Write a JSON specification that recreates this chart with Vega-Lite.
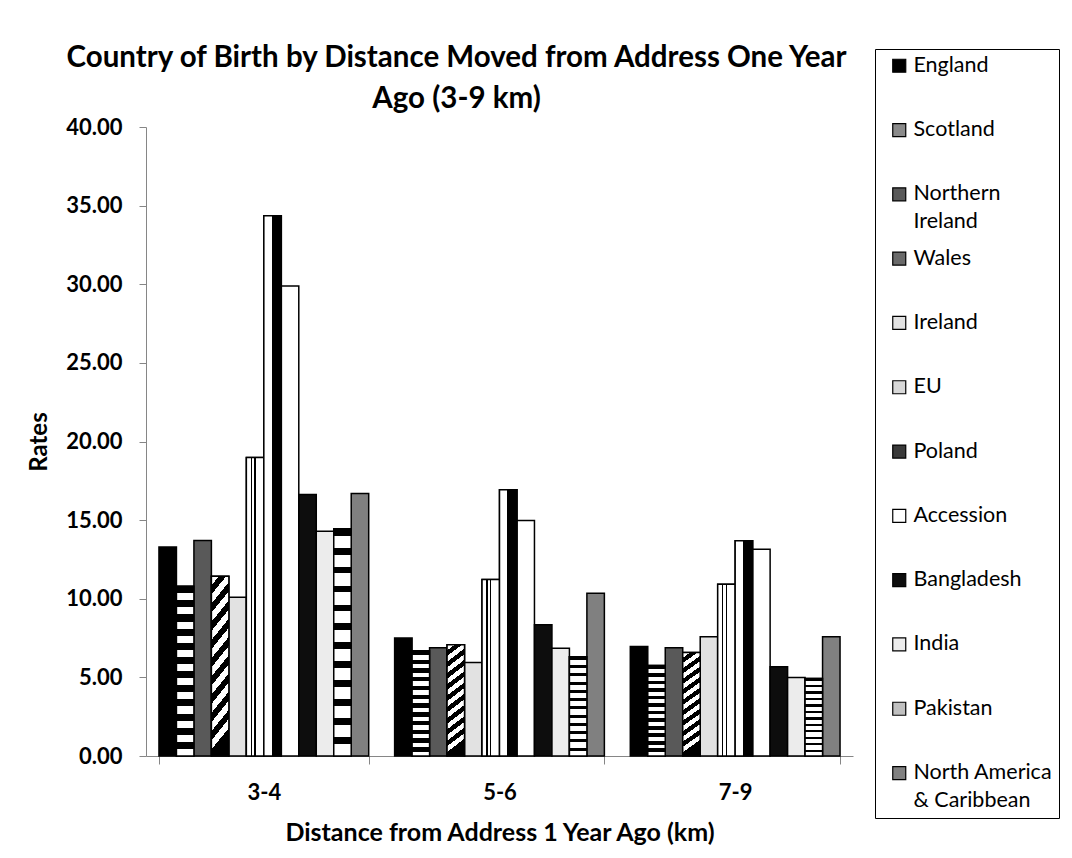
{
  "$schema": "https://vega.github.io/schema/vega-lite/v6.json",
  "autosize": {"type": "none"},
  "width": 707,
  "height": 629,
  "padding": {"left": 146, "top": 127, "right": 219, "bottom": 102},
  "background": "white",
  "title": {
    "text": ["Country of Birth by Distance Moved from Address One Year", "Ago (3-9 km)"],
    "font": "Lato",
    "fontSize": 29.5,
    "fontWeight": "bold",
    "color": "black",
    "anchor": "middle",
    "frame": "group",
    "dx": -43,
    "dy": 86,
    "lineHeight": 41,
    "offset": 20
  },
  "data": {
    "values": [
      {"d": "3-4", "c": "England", "v": 13.29},
      {"d": "3-4", "c": "Scotland", "v": 10.80},
      {"d": "3-4", "c": "Northern Ireland", "v": 13.70},
      {"d": "3-4", "c": "Wales", "v": 11.43},
      {"d": "3-4", "c": "Ireland", "v": 10.10},
      {"d": "3-4", "c": "EU", "v": 18.98},
      {"d": "3-4", "c": "Poland", "v": 34.35},
      {"d": "3-4", "c": "Accession", "v": 29.89},
      {"d": "3-4", "c": "Bangladesh", "v": 16.63},
      {"d": "3-4", "c": "India", "v": 14.30},
      {"d": "3-4", "c": "Pakistan", "v": 14.45},
      {"d": "3-4", "c": "North America & Caribbean", "v": 16.70},
      {"d": "5-6", "c": "England", "v": 7.51},
      {"d": "5-6", "c": "Scotland", "v": 6.69},
      {"d": "5-6", "c": "Northern Ireland", "v": 6.88},
      {"d": "5-6", "c": "Wales", "v": 7.07},
      {"d": "5-6", "c": "Ireland", "v": 5.95},
      {"d": "5-6", "c": "EU", "v": 11.22},
      {"d": "5-6", "c": "Poland", "v": 16.93},
      {"d": "5-6", "c": "Accession", "v": 14.98},
      {"d": "5-6", "c": "Bangladesh", "v": 8.34},
      {"d": "5-6", "c": "India", "v": 6.86},
      {"d": "5-6", "c": "Pakistan", "v": 6.31},
      {"d": "5-6", "c": "North America & Caribbean", "v": 10.35},
      {"d": "7-9", "c": "England", "v": 6.96},
      {"d": "7-9", "c": "Scotland", "v": 5.76},
      {"d": "7-9", "c": "Northern Ireland", "v": 6.88},
      {"d": "7-9", "c": "Wales", "v": 6.58},
      {"d": "7-9", "c": "Ireland", "v": 7.58},
      {"d": "7-9", "c": "EU", "v": 10.92},
      {"d": "7-9", "c": "Poland", "v": 13.69},
      {"d": "7-9", "c": "Accession", "v": 13.14},
      {"d": "7-9", "c": "Bangladesh", "v": 5.67},
      {"d": "7-9", "c": "India", "v": 5.00},
      {"d": "7-9", "c": "Pakistan", "v": 4.93},
      {"d": "7-9", "c": "North America & Caribbean", "v": 7.58}
    ]
  },
  "encoding": {
    "x": {
      "field": "d",
      "type": "nominal",
      "scale": {"paddingInner": 0.11, "paddingOuter": 0.055},
      "axis": {
        "title": "Distance from Address 1 Year Ago (km)",
        "labelAngle": 0,
        "labelFont": "Lato",
        "labelFontSize": 22,
        "labelFontWeight": "bold",
        "labelColor": "black",
        "labelBaseline": "alphabetic",
        "labelPadding": 35,
        "tickBand": "extent",
        "tickSize": 8,
        "tickColor": "#868686",
        "domainColor": "#868686",
        "titleFont": "Lato",
        "titleFontSize": 25,
        "titleFontWeight": "bold",
        "titleColor": "black",
        "titleBaseline": "alphabetic",
        "titleAlign": "center",
        "titleX": 353.5,
        "titleY": 84
      }
    },
    "xOffset": {
      "field": "c",
      "type": "nominal",
      "scale": {
        "domain": ["England", "Scotland", "Northern Ireland", "Wales", "Ireland", "EU", "Poland", "Accession", "Bangladesh", "India", "Pakistan", "North America & Caribbean"],
        "paddingInner": 0,
        "paddingOuter": 0
      }
    },
    "y": {
      "field": "v",
      "type": "quantitative",
      "scale": {"domain": [0, 40], "nice": false},
      "axis": {
        "title": "Rates",
        "values": [0, 5, 10, 15, 20, 25, 30, 35, 40],
        "format": ".2f",
        "grid": false,
        "labelFont": "Lato",
        "labelFontSize": 22,
        "labelFontWeight": "bold",
        "labelColor": "black",
        "labelPadding": 17,
        "tickSize": 7,
        "tickColor": "#868686",
        "domainColor": "#868686",
        "titleFont": "Lato",
        "titleFontSize": 24,
        "titleFontWeight": "bold",
        "titleColor": "black",
        "titleAngle": 270,
        "titleBaseline": "alphabetic",
        "titleAlign": "center",
        "titleX": -100,
        "titleY": 314.5
      }
    }
  },
  "layer": [
    {
      "mark": {"type": "bar", "stroke": "black", "strokeWidth": 1.5},
      "encoding": {
        "color": {
          "field": "c",
          "type": "nominal",
          "scale": {
            "domain": ["England", "Scotland", "Northern Ireland", "Wales", "Ireland", "EU", "Poland", "Accession", "Bangladesh", "India", "Pakistan", "North America & Caribbean"],
            "range": ["#000000", "#8a8a8a", "#595959", "#6a6a6a", "#e2e2e2", "#d8d8d8", "#3a3a3a", "#ffffff", "#0d0d0d", "#ececec", "#c0c0c0", "#808080"]
          },
          "legend": {
            "title": null,
            "orient": "none",
            "legendX": 729,
            "legendY": -78,
            "direction": "vertical",
            "padding": 6,
            "strokeColor": "black",
            "fillColor": "white",
            "symbolType": "square",
            "symbolSize": 169,
            "symbolOffset": 7.5,
            "symbolStrokeColor": "black",
            "symbolStrokeWidth": 1.2,
            "symbolOpacity": 1,
            "labelFont": "Lato",
            "labelFontSize": 21.5,
            "labelColor": "black",
            "labelBaseline": "middle",
            "labelOffset": 3.5,
            "labelLimit": 300,
            "rowPadding": 13.3,
            "labelExpr": "datum.label == 'Northern Ireland' ? ['Northern', 'Ireland'] : datum.label == 'North America & Caribbean' ? ['North America', '& Caribbean'] : [datum.label, '']",
            "encode": {"labels": {"update": {"lineHeight": {"value": 28}}}}
          }
        }
      }
    },
    {
      "transform": [{"filter": "datum.c == 'Scotland'"}],
      "mark": {"type": "bar", "stroke": "black", "strokeWidth": 1.5,
        "fill": {"gradient": "linear", "x1": 0, "y1": 0, "x2": 0, "y2": 1, "stops": [
          {"offset": 0, "color": "black"}, {"offset": 0.0417, "color": "black"}, {"offset": 0.0417, "color": "white"}, {"offset": 0.0833, "color": "white"},
          {"offset": 0.0833, "color": "black"}, {"offset": 0.125, "color": "black"}, {"offset": 0.125, "color": "white"}, {"offset": 0.1667, "color": "white"},
          {"offset": 0.1667, "color": "black"}, {"offset": 0.2083, "color": "black"}, {"offset": 0.2083, "color": "white"}, {"offset": 0.25, "color": "white"},
          {"offset": 0.25, "color": "black"}, {"offset": 0.2917, "color": "black"}, {"offset": 0.2917, "color": "white"}, {"offset": 0.3333, "color": "white"},
          {"offset": 0.3333, "color": "black"}, {"offset": 0.375, "color": "black"}, {"offset": 0.375, "color": "white"}, {"offset": 0.4167, "color": "white"},
          {"offset": 0.4167, "color": "black"}, {"offset": 0.4583, "color": "black"}, {"offset": 0.4583, "color": "white"}, {"offset": 0.5, "color": "white"},
          {"offset": 0.5, "color": "black"}, {"offset": 0.5417, "color": "black"}, {"offset": 0.5417, "color": "white"}, {"offset": 0.5833, "color": "white"},
          {"offset": 0.5833, "color": "black"}, {"offset": 0.625, "color": "black"}, {"offset": 0.625, "color": "white"}, {"offset": 0.6667, "color": "white"},
          {"offset": 0.6667, "color": "black"}, {"offset": 0.7083, "color": "black"}, {"offset": 0.7083, "color": "white"}, {"offset": 0.75, "color": "white"},
          {"offset": 0.75, "color": "black"}, {"offset": 0.7917, "color": "black"}, {"offset": 0.7917, "color": "white"}, {"offset": 0.8333, "color": "white"},
          {"offset": 0.8333, "color": "black"}, {"offset": 0.875, "color": "black"}, {"offset": 0.875, "color": "white"}, {"offset": 0.9167, "color": "white"},
          {"offset": 0.9167, "color": "black"}, {"offset": 0.9583, "color": "black"}, {"offset": 0.9583, "color": "white"}, {"offset": 1, "color": "white"}
        ]}
      }
    },
    {
      "transform": [{"filter": "datum.c == 'Wales'"}],
      "mark": {"type": "bar", "stroke": "black", "strokeWidth": 1.5,
        "fill": {"gradient": "linear", "x1": 0, "y1": 0, "x2": 0.12, "y2": 1, "stops": [
          {"offset": 0, "color": "white"}, {"offset": 0.05, "color": "white"}, {"offset": 0.05, "color": "black"}, {"offset": 0.1, "color": "black"},
          {"offset": 0.1, "color": "white"}, {"offset": 0.15, "color": "white"}, {"offset": 0.15, "color": "black"}, {"offset": 0.2, "color": "black"},
          {"offset": 0.2, "color": "white"}, {"offset": 0.25, "color": "white"}, {"offset": 0.25, "color": "black"}, {"offset": 0.3, "color": "black"},
          {"offset": 0.3, "color": "white"}, {"offset": 0.35, "color": "white"}, {"offset": 0.35, "color": "black"}, {"offset": 0.4, "color": "black"},
          {"offset": 0.4, "color": "white"}, {"offset": 0.45, "color": "white"}, {"offset": 0.45, "color": "black"}, {"offset": 0.5, "color": "black"},
          {"offset": 0.5, "color": "white"}, {"offset": 0.55, "color": "white"}, {"offset": 0.55, "color": "black"}, {"offset": 0.6, "color": "black"},
          {"offset": 0.6, "color": "white"}, {"offset": 0.65, "color": "white"}, {"offset": 0.65, "color": "black"}, {"offset": 0.7, "color": "black"},
          {"offset": 0.7, "color": "white"}, {"offset": 0.75, "color": "white"}, {"offset": 0.75, "color": "black"}, {"offset": 0.8, "color": "black"},
          {"offset": 0.8, "color": "white"}, {"offset": 0.85, "color": "white"}, {"offset": 0.85, "color": "black"}, {"offset": 0.9, "color": "black"},
          {"offset": 0.9, "color": "white"}, {"offset": 0.95, "color": "white"}, {"offset": 0.95, "color": "black"}, {"offset": 1, "color": "black"}
        ]}
      }
    },
    {
      "transform": [{"filter": "datum.c == 'EU'"}],
      "mark": {"type": "bar", "stroke": "black", "strokeWidth": 1.5,
        "fill": {"gradient": "linear", "x1": 0, "y1": 0, "x2": 1, "y2": 0, "stops": [
          {"offset": 0, "color": "white"}, {"offset": 0.25, "color": "white"}, {"offset": 0.25, "color": "black"}, {"offset": 0.33, "color": "black"},
          {"offset": 0.33, "color": "white"}, {"offset": 0.45, "color": "white"}, {"offset": 0.45, "color": "black"}, {"offset": 0.53, "color": "black"},
          {"offset": 0.53, "color": "white"}, {"offset": 1, "color": "white"}
        ]}
      }
    },
    {
      "transform": [{"filter": "datum.c == 'Poland'"}],
      "mark": {"type": "bar", "stroke": "black", "strokeWidth": 1.5,
        "fill": {"gradient": "linear", "x1": 0, "y1": 0, "x2": 1, "y2": 0, "stops": [
          {"offset": 0, "color": "white"}, {"offset": 0.45, "color": "white"}, {"offset": 0.45, "color": "black"}, {"offset": 1, "color": "black"}
        ]}
      }
    },
    {
      "transform": [{"filter": "datum.c == 'Pakistan'"}],
      "mark": {"type": "bar", "stroke": "black", "strokeWidth": 1.5,
        "fill": {"gradient": "linear", "x1": 0, "y1": 0, "x2": 0, "y2": 1, "stops": [
          {"offset": 0, "color": "black"}, {"offset": 0.03, "color": "black"}, {"offset": 0.03, "color": "white"}, {"offset": 0.0833, "color": "white"},
          {"offset": 0.0833, "color": "black"}, {"offset": 0.1133, "color": "black"}, {"offset": 0.1133, "color": "white"}, {"offset": 0.1667, "color": "white"},
          {"offset": 0.1667, "color": "black"}, {"offset": 0.1967, "color": "black"}, {"offset": 0.1967, "color": "white"}, {"offset": 0.25, "color": "white"},
          {"offset": 0.25, "color": "black"}, {"offset": 0.28, "color": "black"}, {"offset": 0.28, "color": "white"}, {"offset": 0.3333, "color": "white"},
          {"offset": 0.3333, "color": "black"}, {"offset": 0.3633, "color": "black"}, {"offset": 0.3633, "color": "white"}, {"offset": 0.4167, "color": "white"},
          {"offset": 0.4167, "color": "black"}, {"offset": 0.4467, "color": "black"}, {"offset": 0.4467, "color": "white"}, {"offset": 0.5, "color": "white"},
          {"offset": 0.5, "color": "black"}, {"offset": 0.53, "color": "black"}, {"offset": 0.53, "color": "white"}, {"offset": 0.5833, "color": "white"},
          {"offset": 0.5833, "color": "black"}, {"offset": 0.6133, "color": "black"}, {"offset": 0.6133, "color": "white"}, {"offset": 0.6667, "color": "white"},
          {"offset": 0.6667, "color": "black"}, {"offset": 0.6967, "color": "black"}, {"offset": 0.6967, "color": "white"}, {"offset": 0.75, "color": "white"},
          {"offset": 0.75, "color": "black"}, {"offset": 0.78, "color": "black"}, {"offset": 0.78, "color": "white"}, {"offset": 0.8333, "color": "white"},
          {"offset": 0.8333, "color": "black"}, {"offset": 0.8633, "color": "black"}, {"offset": 0.8633, "color": "white"}, {"offset": 0.9167, "color": "white"},
          {"offset": 0.9167, "color": "black"}, {"offset": 0.9467, "color": "black"}, {"offset": 0.9467, "color": "white"}, {"offset": 1, "color": "white"}
        ]}
      }
    }
  ],
  "config": {
    "font": "Lato",
    "view": {"stroke": null}
  }
}
